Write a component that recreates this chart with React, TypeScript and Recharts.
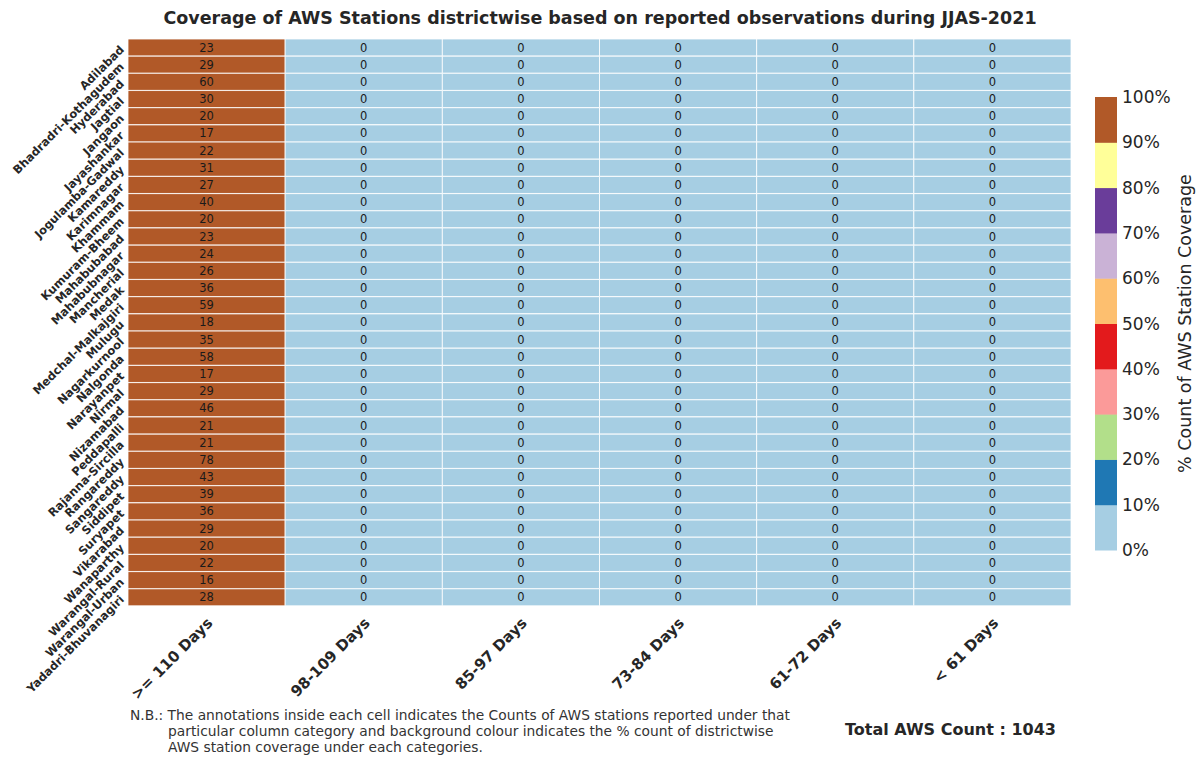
import { BarChart, Bar, XAxis, YAxis, Cell, LabelList } from "recharts";

// Districts (top to bottom) and station counts per coverage class
const districts = [
  "Adilabad", "Bhadradri-Kothagudem", "Hyderabad", "Jagtial", "Jangaon", "Jayashankar",
  "Jogulamba-Gadwal", "Kamareddy", "Karimnagar", "Khammam", "Kumuram-Bheem", "Mahabubabad",
  "Mahabubnagar", "Mancherial", "Medak", "Medchal-Malkajgiri", "Mulugu", "Nagarkurnool",
  "Nalgonda", "Narayanpet", "Nirmal", "Nizamabad", "Peddapalli", "Rajanna-Sircilla",
  "Rangareddy", "Sangareddy", "Siddipet", "Suryapet", "Vikarabad", "Wanaparthy",
  "Warangal-Rural", "Warangal-Urban", "Yadadri-Bhuvanagiri",
];

const categories = [">= 110 Days", "98-109 Days", "85-97 Days", "73-84 Days", "61-72 Days", "< 61 Days"];

const countsGe110 = [23, 29, 60, 30, 20, 17, 22, 31, 27, 40, 20, 23, 24, 26, 36, 59, 18, 35, 58, 17, 29, 46, 21, 21, 78, 43, 39, 36, 29, 20, 22, 16, 28];
const counts98to109 = [0, 0, 0, 0, 0, 0, 0, 0, 0, 0, 0, 0, 0, 0, 0, 0, 0, 0, 0, 0, 0, 0, 0, 0, 0, 0, 0, 0, 0, 0, 0, 0, 0];
const counts85to97 = [0, 0, 0, 0, 0, 0, 0, 0, 0, 0, 0, 0, 0, 0, 0, 0, 0, 0, 0, 0, 0, 0, 0, 0, 0, 0, 0, 0, 0, 0, 0, 0, 0];
const counts73to84 = [0, 0, 0, 0, 0, 0, 0, 0, 0, 0, 0, 0, 0, 0, 0, 0, 0, 0, 0, 0, 0, 0, 0, 0, 0, 0, 0, 0, 0, 0, 0, 0, 0];
const counts61to72 = [0, 0, 0, 0, 0, 0, 0, 0, 0, 0, 0, 0, 0, 0, 0, 0, 0, 0, 0, 0, 0, 0, 0, 0, 0, 0, 0, 0, 0, 0, 0, 0, 0];
const countsLt61 = [0, 0, 0, 0, 0, 0, 0, 0, 0, 0, 0, 0, 0, 0, 0, 0, 0, 0, 0, 0, 0, 0, 0, 0, 0, 0, 0, 0, 0, 0, 0, 0, 0];

const columns = [countsGe110, counts98to109, counts85to97, counts73to84, counts61to72, countsLt61];

// "Paired" colour classes, one per 10% band
const bandColors = [
  "#a6cee3", "#1f78b4", "#b2df8a", "#fb9a99", "#e31a1c",
  "#fdbf6f", "#cab2d6", "#6a3d9a", "#ffff99", "#b15928",
];
const bandTicks = ["0%", "10%", "20%", "30%", "40%", "50%", "60%", "70%", "80%", "90%", "100%"];

const totalCount = columns.reduce((sum, col) => sum + col.reduce((a, b) => a + b, 0), 0);

const rows = districts.map((district, i) => {
  const row: Record<string, number | string> = { district };
  const rowTotal = columns.reduce((s, col) => s + col[i], 0);
  columns.forEach((col, c) => {
    row[`n${c}`] = col[i];
    row[`p${c}`] = rowTotal ? (col[i] / rowTotal) * 100 : 0;
    row[`w${c}`] = 1; // each class spans one unit on the x scale
  });
  return row;
});

function bandColor(pct: number) {
  return bandColors[Math.min(bandColors.length - 1, Math.floor(pct / 10))];
}

const FONT = "'DejaVu Sans', sans-serif";

function DistrictTick({ x, y, payload }: any) {
  const tx = x + 2;
  return (
    <text
      x={tx}
      y={y}
      transform={`rotate(-45 ${tx} ${y})`}
      textAnchor="end"
      dominantBaseline="central"
      fontFamily={FONT}
      fontWeight="bold"
      fontSize={11.5}
      fill="#262626"
    >
      {payload.value}
    </text>
  );
}

function CategoryTick({ x, y, payload }: any) {
  const tx = x + 7;
  const ty = y + 10;
  return (
    <text
      x={tx}
      y={ty}
      transform={`rotate(-45 ${tx} ${ty})`}
      textAnchor="end"
      fontFamily={FONT}
      fontWeight="bold"
      fontSize={15}
      fill="#262626"
    >
      {categories[Math.floor(payload.value)]}
    </text>
  );
}

function CountLabel({ x, y, width, height, value }: any) {
  return (
    <text
      x={x + width / 2}
      y={y + height / 2}
      textAnchor="middle"
      dominantBaseline="central"
      fontFamily={FONT}
      fontSize={11.5}
      fill="#1a1a1a"
    >
      {value}
    </text>
  );
}

const CB_X = 1095;
const CB_W = 22;
const CB_TOP = 97;
const CB_BOTTOM = 550;

function ColorBar() {
  const seg = (CB_BOTTOM - CB_TOP) / bandColors.length;
  const mid = (CB_TOP + CB_BOTTOM) / 2;
  return (
    <g fontFamily={FONT}>
      {bandColors.map((c, i) => (
        <rect key={c} x={CB_X} y={CB_BOTTOM - (i + 1) * seg} width={CB_W} height={seg + 0.5} fill={c} />
      ))}
      {bandTicks.map((t, i) => (
        <text key={t} x={CB_X + CB_W + 5} y={CB_BOTTOM - i * seg} dominantBaseline="central" fontSize={17} fill="#262626">
          {t}
        </text>
      ))}
      <text
        x={1185}
        y={mid}
        transform={`rotate(-90 1185 ${mid})`}
        textAnchor="middle"
        dominantBaseline="central"
        fontSize={17.5}
        fill="#262626"
      >
        % Count of AWS Station Coverage
      </text>
    </g>
  );
}

export default function App() {
  return (
    <div style={{ position: "relative", width: 1202, height: 758, background: "#fff", overflow: "hidden" }}>
      <style>{"body{margin:0;overflow:hidden}"}</style>
      <BarChart
        width={1202}
        height={758}
        data={rows}
        layout="vertical"
        barCategoryGap={0}
        margin={{ top: 39, right: 131, bottom: 0, left: 0 }}
      >
        <XAxis
          type="number"
          domain={[0, categories.length]}
          ticks={categories.map((_, i) => i + 0.5)}
          tick={<CategoryTick />}
          tickLine={false}
          axisLine={false}
          height={152}
          interval={0}
        />
        <YAxis
          type="category"
          dataKey="district"
          width={128}
          tick={<DistrictTick />}
          tickLine={false}
          axisLine={false}
          interval={0}
        />
        {columns.map((_, c) => (
          <Bar key={c} dataKey={`w${c}`} stackId="grid" isAnimationActive={false}>
            {rows.map((r, i) => (
              <Cell key={i} fill={bandColor(r[`p${c}`] as number)} stroke="#ffffff" strokeWidth={0.8} />
            ))}
            <LabelList dataKey={`n${c}`} content={<CountLabel />} />
          </Bar>
        ))}
      </BarChart>
      <svg width={1202} height={758} style={{ position: "absolute", left: 0, top: 0, pointerEvents: "none" }}>
        <text x={600} y={18} textAnchor="middle" dominantBaseline="central" fontFamily={FONT} fontWeight="bold" fontSize={17.5} fill="#262626">
          Coverage of AWS Stations districtwise based on reported observations during JJAS-2021
        </text>
        <ColorBar />
        <g fontFamily={FONT} fontSize={13.8} fill="#333">
          <text x={130} y={720}>N.B.: The annotations inside each cell indicates the Counts of AWS stations reported under that</text>
          <text x={168} y={736}>particular column category and background colour indicates the % count of districtwise</text>
          <text x={168} y={752}>AWS station coverage under each categories.</text>
        </g>
        <text x={845} y={729} dominantBaseline="central" fontFamily={FONT} fontWeight="bold" fontSize={16} fill="#262626">
          {`Total AWS Count : ${totalCount}`}
        </text>
      </svg>
    </div>
  );
}
